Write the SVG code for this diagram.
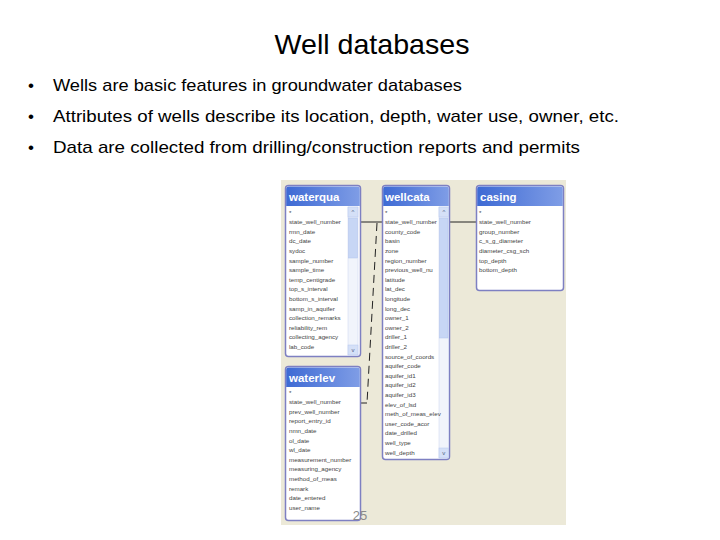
<svg xmlns="http://www.w3.org/2000/svg" width="720" height="540" viewBox="0 0 720 540">
<defs>
<linearGradient id="tb" x1="0" y1="0" x2="1" y2="0">
<stop offset="0" stop-color="#3E6AD4"/>
<stop offset="1" stop-color="#7F9DE6"/>
</linearGradient>
<style>
.h{font-family:"Liberation Sans",Arial,sans-serif;fill:#000}
.b{font-family:"Liberation Sans",Arial,sans-serif;font-size:17px;fill:#000}
.frame{fill:#fff;stroke:#7E80C2;stroke-width:1.5}
.bar{fill:url(#tb)}
.tt{font-family:"Liberation Sans",Arial,sans-serif;font-size:11.5px;font-weight:bold;fill:#fff}
.r{font-family:"Liberation Sans",Arial,sans-serif;font-size:6.2px;fill:#444}
.trk{fill:#F1F4FB;stroke:#C9D4EE;stroke-width:0.5}
.btn{fill:#D5E0F7;stroke:#B6C6EE;stroke-width:0.5}
.thumb{fill:#C7D6F5;stroke:#AFC2EC;stroke-width:0.5}
.ar{font-family:"Liberation Sans",Arial,sans-serif;font-size:6px;fill:#4D6185;text-anchor:middle}
.ln{stroke:#222;stroke-width:1;fill:none}
.dl{stroke:#222;stroke-width:1;fill:none;stroke-dasharray:8 5}
</style>
</defs>
<rect width="720" height="540" fill="#fff"/>
<text class="h" x="372" y="54" font-size="28" text-anchor="middle" textLength="195" lengthAdjust="spacingAndGlyphs">Well databases</text>
<g id="bullets">
<text class="b" x="28" y="91">•</text>
<text class="b" x="53" y="91" textLength="409" lengthAdjust="spacingAndGlyphs">Wells are basic features in groundwater databases</text>
<text class="b" x="28" y="122">•</text>
<text class="b" x="53" y="122" textLength="566" lengthAdjust="spacingAndGlyphs">Attributes of wells describe its location, depth, water use, owner, etc.</text>
<text class="b" x="28" y="153">•</text>
<text class="b" x="53" y="153" textLength="527" lengthAdjust="spacingAndGlyphs">Data are collected from drilling/construction reports and permits</text>
</g>
<rect id="panel" x="281" y="180" width="285" height="345" fill="#ECE9D8"/>

<g id="connectors">
<line class="ln" x1="360" y1="222" x2="382" y2="222"/>
<line class="dl" x1="377" y1="223" x2="367" y2="403"/>
<line class="ln" x1="367" y1="403" x2="360" y2="403"/>
<line class="ln" x1="449" y1="222" x2="476" y2="222"/>
</g>

<g id="waterqua">
<rect class="frame" x="285.5" y="185.5" width="75" height="171" rx="3"/>
<path class="bar" d="M286.2,206 V189 a2.5,2.5 0 0 1 2.5,-2.5 H357.3 a2.5,2.5 0 0 1 2.5,2.5 V206 Z"/>
<text class="tt" x="289" y="201">waterqua</text>
<rect class="trk" x="348" y="207" width="10" height="148"/>
<rect class="btn" x="348" y="207" width="10" height="10"/>
<text class="ar" x="353" y="214">^</text>
<rect class="thumb" x="348.5" y="218" width="9" height="40"/>
<rect class="btn" x="348" y="345" width="10" height="10"/>
<text class="ar" x="353" y="352">v</text>
<g class="r">
<text x="289" y="214.5">*</text>
<text x="289" y="224.1">state_well_number</text>
<text x="289" y="233.7">rmn_date</text>
<text x="289" y="243.3">dc_date</text>
<text x="289" y="252.9">sydoc</text>
<text x="289" y="262.5">sample_number</text>
<text x="289" y="272.1">sample_time</text>
<text x="289" y="281.7">temp_centigrade</text>
<text x="289" y="291.3">top_s_interval</text>
<text x="289" y="300.9">bottom_s_interval</text>
<text x="289" y="310.5">samp_in_aquifer</text>
<text x="289" y="320.1">collection_remarks</text>
<text x="289" y="329.7">reliability_rem</text>
<text x="289" y="339.3">collecting_agency</text>
<text x="289" y="348.9">lab_code</text>
</g>
</g>

<g id="wellcata">
<rect class="frame" x="382.5" y="185.5" width="67" height="274" rx="3"/>
<path class="bar" d="M383.2,206 V189 a2.5,2.5 0 0 1 2.5,-2.5 H446.3 a2.5,2.5 0 0 1 2.5,2.5 V206 Z"/>
<text class="tt" x="385" y="201">wellcata</text>
<rect class="trk" x="439" y="207" width="9.5" height="251"/>
<rect class="btn" x="439" y="207" width="9.5" height="10"/>
<text class="ar" x="443.8" y="214">^</text>
<rect class="thumb" x="439.5" y="218" width="8.5" height="120"/>
<rect class="btn" x="439" y="448" width="9.5" height="10"/>
<text class="ar" x="443.8" y="455">v</text>
<g class="r">
<text x="385" y="214.5">*</text>
<text x="385" y="224.1">state_well_number</text>
<text x="385" y="233.7">county_code</text>
<text x="385" y="243.3">basin</text>
<text x="385" y="252.9">zone</text>
<text x="385" y="262.5">region_number</text>
<text x="385" y="272.1">previous_well_nu</text>
<text x="385" y="281.7">latitude</text>
<text x="385" y="291.3">lat_dec</text>
<text x="385" y="300.9">longitude</text>
<text x="385" y="310.5">long_dec</text>
<text x="385" y="320.1">owner_1</text>
<text x="385" y="329.7">owner_2</text>
<text x="385" y="339.3">driller_1</text>
<text x="385" y="348.9">driller_2</text>
<text x="385" y="358.5">source_of_coords</text>
<text x="385" y="368.1">aquifer_code</text>
<text x="385" y="377.7">aquifer_id1</text>
<text x="385" y="387.3">aquifer_id2</text>
<text x="385" y="396.9">aquifer_id3</text>
<text x="385" y="406.5">elev_of_lsd</text>
<text x="385" y="416.1">meth_of_meas_elev</text>
<text x="385" y="425.7">user_code_acor</text>
<text x="385" y="435.3">date_drilled</text>
<text x="385" y="444.9">well_type</text>
<text x="385" y="454.5">well_depth</text>
</g>
</g>

<g id="casing">
<rect class="frame" x="476.5" y="185.5" width="87" height="105" rx="3"/>
<path class="bar" d="M477.2,206 V189 a2.5,2.5 0 0 1 2.5,-2.5 H560.3 a2.5,2.5 0 0 1 2.5,2.5 V206 Z"/>
<text class="tt" x="480" y="201">casing</text>
<g class="r">
<text x="479" y="214.5">*</text>
<text x="479" y="224.1">state_well_number</text>
<text x="479" y="233.7">group_number</text>
<text x="479" y="243.3">c_s_g_diameter</text>
<text x="479" y="252.9">diameter_csg_sch</text>
<text x="479" y="262.5">top_depth</text>
<text x="479" y="272.1">bottom_depth</text>
</g>
</g>

<g id="waterlev">
<rect class="frame" x="285.5" y="366.5" width="75" height="154" rx="3"/>
<path class="bar" d="M286.2,387 V370 a2.5,2.5 0 0 1 2.5,-2.5 H357.3 a2.5,2.5 0 0 1 2.5,2.5 V387 Z"/>
<text class="tt" x="289" y="382">waterlev</text>
<g class="r">
<text x="289" y="394.5">*</text>
<text x="289" y="404.1">state_well_number</text>
<text x="289" y="413.7">prev_well_number</text>
<text x="289" y="423.3">report_entry_id</text>
<text x="289" y="432.9">nmn_date</text>
<text x="289" y="442.5">ol_date</text>
<text x="289" y="452.1">wl_date</text>
<text x="289" y="461.7">measurement_number</text>
<text x="289" y="471.3">measuring_agency</text>
<text x="289" y="480.9">method_of_meas</text>
<text x="289" y="490.5">remark</text>
<text x="289" y="500.1">date_entered</text>
<text x="289" y="509.7">user_name</text>
</g>
</g>

<text x="360" y="520" font-family="Liberation Sans, Arial, sans-serif" font-size="13" fill="#8A8A8A" text-anchor="middle">25</text>
</svg>
